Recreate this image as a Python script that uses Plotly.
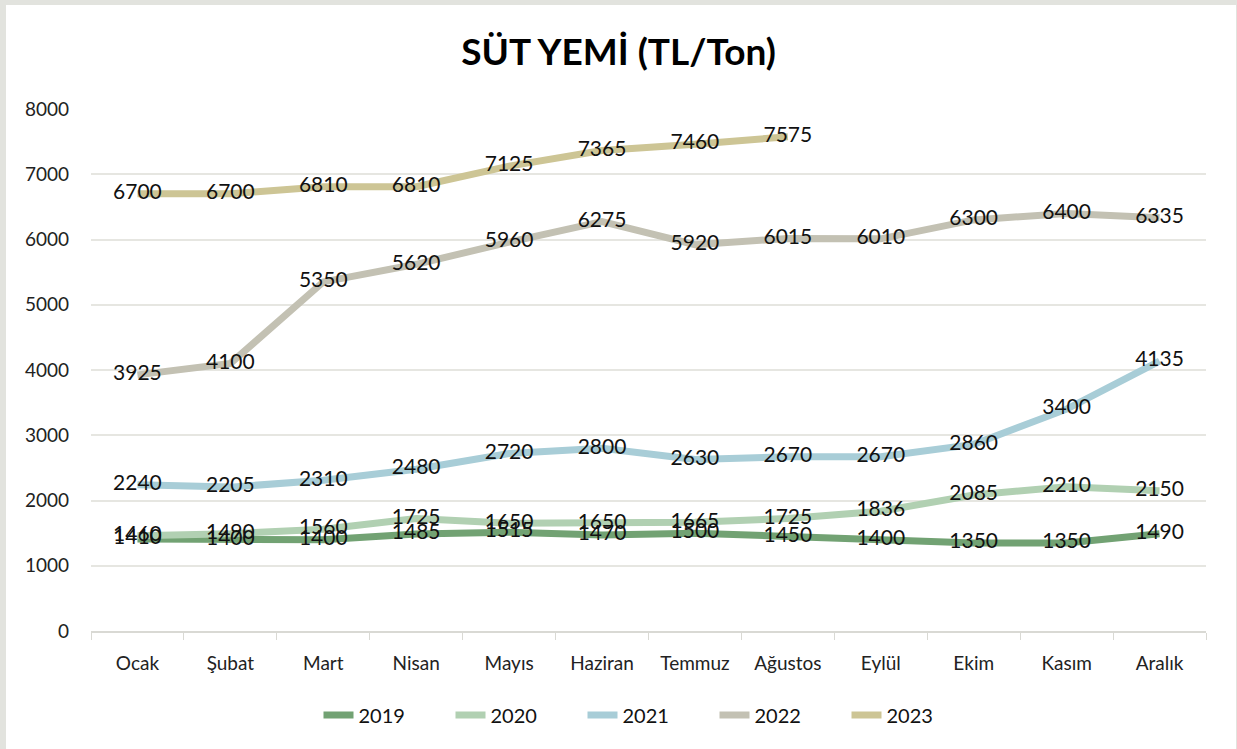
import plotly.graph_objects as go

# Monthly dairy feed prices (TL/Ton)
months = ["Ocak", "Şubat", "Mart", "Nisan", "Mayıs", "Haziran",
          "Temmuz", "Ağustos", "Eylül", "Ekim", "Kasım", "Aralık"]

y2019 = [1410, 1400, 1400, 1485, 1515, 1470, 1500, 1450, 1400, 1350, 1350, 1490]
y2020 = [1460, 1490, 1560, 1725, 1650, 1650, 1665, 1725, 1836, 2085, 2210, 2150]
y2021 = [2240, 2205, 2310, 2480, 2720, 2800, 2630, 2670, 2670, 2860, 3400, 4135]
y2022 = [3925, 4100, 5350, 5620, 5960, 6275, 5920, 6015, 6010, 6300, 6400, 6335]
y2023 = [6700, 6700, 6810, 6810, 7125, 7365, 7460, 7575]

series = [
    ("2019", y2019, "#72a273"),
    ("2020", y2020, "#b1d0b2"),
    ("2021", y2021, "#a8cdd7"),
    ("2022", y2022, "#c3c1b3"),
    ("2023", y2023, "#cdc595"),
]

FONT = "Lato"
fig = go.Figure()

# lines first
for name, vals, color in series:
    fig.add_trace(go.Scatter(
        x=months[:len(vals)], y=vals, name=name, mode="lines",
        line=dict(color=color, width=7), hoverinfo="skip",
    ))

# value labels on top of every line
for name, vals, color in series:
    fig.add_trace(go.Scatter(
        x=months[:len(vals)], y=vals, mode="text", showlegend=False,
        text=[str(v) for v in vals], textposition="middle center",
        textfont=dict(family=FONT, size=21, color="#111111"),
        cliponaxis=False, hoverinfo="skip",
    ))

W, H = 1237, 749
L, R, T, B = 91, 31, 109, 118
pw, ph = W - L - R, H - T - B

def px_x(p):
    return (p - L) / pw

def px_y(p):
    return (H - B - p) / ph

# white card on a light grey page
fig.add_shape(type="rect", xref="paper", yref="paper",
              x0=px_x(6), x1=px_x(1236), y0=px_y(760), y1=px_y(5),
              fillcolor="white", line=dict(width=0), layer="below")

fig.update_layout(
    width=W, height=H,
    margin=dict(l=L, r=R, t=T, b=B, autoexpand=False),
    paper_bgcolor="#e2e3de",
    plot_bgcolor="white",
    title=dict(text="<b>SÜT YEMİ (TL/Ton)</b>", x=0.5, xanchor="center",
               y=1 - 52 / H, yanchor="middle",
               font=dict(family=FONT, size=37, color="#000000")),
    font=dict(family=FONT, size=19, color="#222222"),
    showlegend=True,
    legend=dict(orientation="h", x=0.5, xanchor="center",
                y=px_y(715), yanchor="middle",
                font=dict(family=FONT, size=20, color="#111111"),
                entrywidth=87, entrywidthmode="pixels",
                bgcolor="rgba(0,0,0,0)"),
)

fig.update_xaxes(
    type="category", categoryorder="array", categoryarray=months,
    range=[-0.5, len(months) - 0.5], automargin=False,
    showline=True, linecolor="#d9d9d4", linewidth=1.5,
    ticks="outside", tickson="boundaries", ticklen=7, tickcolor="#d9d9d4",
    showgrid=False, ticklabelstandoff=14,
    tickfont=dict(family=FONT, size=19, color="#222222"),
)
fig.update_yaxes(
    range=[0, 8000], dtick=1000, tickformat="d", automargin=False,
    showgrid=True, gridcolor="#e6e6e1", gridwidth=1.5,
    zeroline=False, showline=False, ticks="",
    ticklabelstandoff=21,
    tickfont=dict(family=FONT, size=19, color="#222222"),
)

fig.write_html("out.html")
